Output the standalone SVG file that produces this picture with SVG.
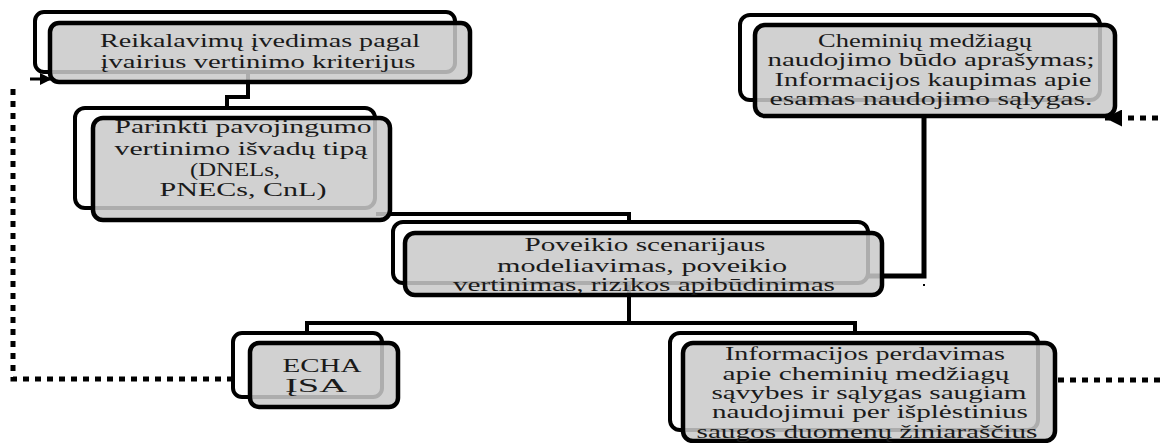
<svg xmlns="http://www.w3.org/2000/svg" width="1163" height="443" viewBox="0 0 1163 443">
  <style>
    .back { fill: #ffffff; stroke: #000000; stroke-width: 4; }
    .front { fill: #c9c9c9; fill-opacity: 0.86; stroke: #000000; stroke-width: 4.5; }
    .lbl { font-family: "Liberation Serif", "Times New Roman", Times, serif; font-size: 18px; fill: #1a1a1a; text-anchor: middle; }
    .conn { fill: none; stroke: #000000; stroke-width: 4; }
    .dot { fill: none; stroke: #000000; stroke-width: 5; stroke-dasharray: 6 6; }
  </style>
  <defs>
    <marker id="head" viewBox="0 0 10 10" refX="10" refY="5" markerWidth="17" markerHeight="17" markerUnits="userSpaceOnUse" orient="auto">
      <path d="M0,0 L10,5 L0,10 Z" fill="#000000"/>
    </marker>
    <marker id="headSmall" viewBox="0 0 10 10" refX="10" refY="5" markerWidth="16" markerHeight="12" markerUnits="userSpaceOnUse" orient="auto">
      <path d="M0,0 L10,5 L0,10 Z" fill="#000000"/>
    </marker>
  </defs>

  <!-- connectors (drawn under the boxes so they show through the tinted fronts) -->
  <g id="connectors">
    <path class="conn" d="M248 72 V97 H227 V108"/>
    <path class="conn" d="M376 214 H629 V222"/>
    <path class="conn" d="M629 283 V323 H307 V333"/>
    <path class="conn" d="M629 323 H855 V333"/>
    <path class="conn" d="M868 276 H924 V117" style="stroke-width:5"/>
    <rect x="923" y="284" width="2" height="2" fill="#000000"/>
    <!-- feedback loops -->
    <path class="dot" d="M233 379 H13 V84"/>
    <path d="M30 79 H52" fill="none" stroke="#000000" stroke-width="3" marker-end="url(#headSmall)"/>
    <path class="dot" d="M1058 380 H1170"/>
    <path class="dot" d="M1170 118 H1105" marker-end="url(#head)"/>
  </g>

  <g id="n-reikalavimai">
    <rect class="back" x="35" y="12" width="420" height="60" rx="9"/>
    <rect class="front" x="50" y="23" width="420" height="59" rx="9"/>
    <text class="lbl" x="260" y="47" textLength="320" lengthAdjust="spacingAndGlyphs">Reikalavimų įvedimas pagal</text>
    <text class="lbl" x="258" y="68" textLength="315" lengthAdjust="spacingAndGlyphs">įvairius vertinimo kriterijus</text>
  </g>

  <g id="n-isvados">
    <rect class="back" x="75" y="108" width="300" height="100" rx="10"/>
    <rect class="front" x="93" y="118" width="297" height="102" rx="10"/>
    <text class="lbl" x="243" y="133" textLength="257" lengthAdjust="spacingAndGlyphs">Parinkti pavojingumo</text>
    <text class="lbl" x="241" y="155" textLength="253" lengthAdjust="spacingAndGlyphs">vertinimo išvadų tipą</text>
    <text class="lbl" x="235" y="176" textLength="90" lengthAdjust="spacingAndGlyphs">(DNELs,</text>
    <text class="lbl" x="243" y="196" textLength="167" lengthAdjust="spacingAndGlyphs">PNECs, CnL)</text>
  </g>

  <g id="n-poveikis">
    <rect class="back" x="393" y="222" width="475" height="61" rx="10"/>
    <rect class="front" x="405" y="233" width="477" height="62" rx="10"/>
    <text class="lbl" x="645" y="251" textLength="241" lengthAdjust="spacingAndGlyphs">Poveikio scenarijaus</text>
    <text class="lbl" x="642" y="272" textLength="290" lengthAdjust="spacingAndGlyphs">modeliavimas, poveikio</text>
    <text class="lbl" x="644" y="291" textLength="382" lengthAdjust="spacingAndGlyphs">vertinimas, rizikos apibūdinimas</text>
  </g>

  <g id="n-naudojimas">
    <rect class="back" x="740" y="15" width="360" height="85" rx="10"/>
    <rect class="front" x="755" y="25" width="360" height="91" rx="10"/>
    <text class="lbl" x="925" y="47" textLength="214" lengthAdjust="spacingAndGlyphs">Cheminių medžiagų</text>
    <text class="lbl" x="931" y="66" textLength="327" lengthAdjust="spacingAndGlyphs">naudojimo būdo aprašymas;</text>
    <text class="lbl" x="933" y="86" textLength="317" lengthAdjust="spacingAndGlyphs">Informacijos kaupimas apie</text>
    <text class="lbl" x="931" y="105" textLength="323" lengthAdjust="spacingAndGlyphs">esamas naudojimo sąlygas.</text>
  </g>

  <g id="n-echa">
    <rect class="back" x="233" y="333" width="149" height="64" rx="9"/>
    <rect class="front" x="250" y="343" width="148" height="64" rx="9"/>
    <text class="lbl" x="322" y="372" textLength="79" lengthAdjust="spacingAndGlyphs">ECHA</text>
    <text class="lbl" x="316" y="392" textLength="62" lengthAdjust="spacingAndGlyphs">ĮSA</text>
  </g>

  <g id="n-perdavimas">
    <rect class="back" x="670" y="333" width="368" height="97" rx="10"/>
    <rect class="front" x="683" y="343" width="372" height="98" rx="10"/>
    <text class="lbl" x="865" y="360" textLength="280" lengthAdjust="spacingAndGlyphs">Informacijos perdavimas</text>
    <text class="lbl" x="866" y="380" textLength="287" lengthAdjust="spacingAndGlyphs">apie cheminių medžiagų</text>
    <text class="lbl" x="869" y="399" textLength="315" lengthAdjust="spacingAndGlyphs">sąvybes ir sąlygas saugiam</text>
    <text class="lbl" x="870" y="418" textLength="316" lengthAdjust="spacingAndGlyphs">naudojimui per išplėstinius</text>
    <text class="lbl" x="867" y="438" textLength="341" lengthAdjust="spacingAndGlyphs">saugos duomenų žiniaraščius</text>
  </g>
</svg>
